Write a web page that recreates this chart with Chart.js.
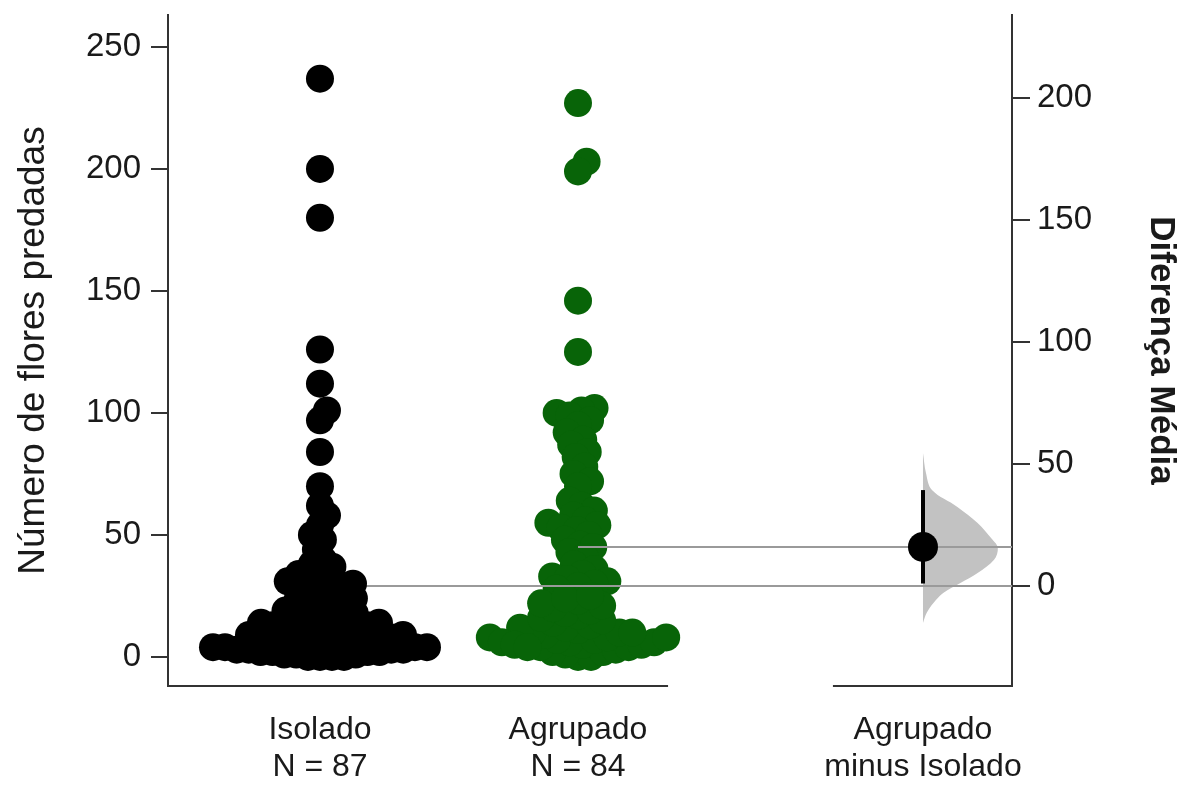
<!DOCTYPE html>
<html lang="pt">
<head>
<meta charset="UTF-8">
<title>Agrupado minus Isolado</title>
<script src="https://cdn.jsdelivr.net/npm/chart.js"></script>
<style>
  body { margin: 0; background: #fff; }
  #wrap { width: 1187px; height: 785px; }
</style>
</head>
<body>
<div id="wrap"><canvas id="chart"></canvas></div>
<script>
// values
const groups = ['Isolado', 'Agrupado'];
const groupN = [87, 84];
const isolado = [237, 200, 180, 126, 112, 101, 97, 84, 70, 62, 58, 54, 50, 48,
  44, 40, 38, 37, 35, 34, 33, 32, 31, 30, 30, 29, 28, 27, 26, 25, 24, 23, 22, 21, 20, 20, 19, 18,
  0, 0, 0, 0, 1, 1, 1, 2, 2, 2, 2, 3, 3, 3, 3, 4, 4, 4, 4, 5, 5, 5,
  6, 6, 6, 7, 7, 7, 8, 8, 8, 9, 9, 10, 10, 10, 11, 11, 12, 12, 13, 13,
  14, 14, 15, 15, 16, 16, 17];
const agrupado = [227, 203, 199, 146, 125,
  102, 101, 100, 99, 97, 95, 92, 89, 87, 84, 82, 78, 75, 72, 70,
  64, 62, 60, 58, 56, 55, 54, 53, 52, 50, 48, 46, 45, 43, 41,
  38, 36, 34, 33, 32, 31, 30, 29, 28,
  0, 0, 1, 2, 2, 3, 4, 4, 5, 5, 6, 6, 7, 7, 8, 8, 9, 10, 10, 11,
  12, 12, 13, 14, 15, 16, 17, 18, 19, 20, 21, 22, 23, 24, 25, 10, 8, 6, 5, 4];
const groupMeans = [29.1, 45.1];
const meanDiff = 16.0;
const ciDiff = [1.0, 39.3];
// bootstrap distribution of the difference (half violin)
const densityValues = [54.5, 46.3, 39.3, 32.4, 25.8, 18.9, 15.6, 10.7, 5.3, 1.2, -2.9, -7, -11, -15.2];
const densityWidths = [0, 0.04, 0.12, 0.46, 0.73, 0.93, 1.0, 0.95, 0.73, 0.5, 0.27, 0.14, 0.05, 0];
const leftTicks = [0, 50, 100, 150, 200, 250];
const rightTicks = [0, 50, 100, 150, 200];

const groupX = [1, 2];
const diffX = 3.337;
const xMin = 0.411, xMax = 3.682;
const yMin = -11.9, yMax = 263.1;
const violinWidth = 0.29;
const green = 'rgb(8,100,8)';
const font = 'Liberation Sans, Arial, sans-serif';

const xTickPos = [groupX[0], groupX[1], diffX];
const xTickLabels = [
  [groups[0], 'N = ' + groupN[0]],
  [groups[1], 'N = ' + groupN[1]],
  [groups[1], 'minus ' + groups[0]]
];

const violin = densityValues.map((v, i) => ({ x: diffX + densityWidths[i] * violinWidth, y: v }));

// beeswarm offsets, worked out in pixels through the chart's scales
function swarm(values, center, chart, d) {
  const xs = chart.scales.x, ys = chart.scales.y;
  const cx = xs.getPixelForValue(center);
  const placed = [];
  const out = new Array(values.length);
  const order = values.map((v, i) => i).sort((a, b) => values[a] - values[b]);
  for (const i of order) {
    const py = ys.getPixelForValue(values[i]);
    const near = placed.filter(p => Math.abs(p.y - py) < d);
    const cands = [0];
    near.forEach(p => {
      const dx = Math.sqrt(d * d - (p.y - py) ** 2);
      cands.push(p.x + dx, p.x - dx);
    });
    cands.sort((a, b) => Math.abs(a) - Math.abs(b));
    const best = cands.find(c => near.every(p => (p.x - c) ** 2 + (p.y - py) ** 2 >= d * d - 0.01));
    placed.push({ x: best, y: py });
    out[i] = { x: xs.getValueForPixel(cx + best), y: values[i] };
  }
  return out;
}

const axisSegments = {
  id: 'axisSegments',
  afterDraw(chart) {
    const { ctx, chartArea, scales: { x } } = chart;
    ctx.save();
    ctx.strokeStyle = '#333';
    ctx.lineWidth = 2;
    ctx.beginPath();
    ctx.moveTo(chartArea.left - 1, chartArea.bottom);
    ctx.lineTo(x.getPixelForValue(2.349), chartArea.bottom);
    ctx.moveTo(x.getPixelForValue(2.988), chartArea.bottom);
    ctx.lineTo(chartArea.right + 1, chartArea.bottom);
    ctx.stroke();
    ctx.restore();
  }
};

const noPad = s => { s.paddingTop = 0; s.paddingBottom = 0; s.paddingLeft = 0; s.paddingRight = 0; };

const chart = new Chart(document.getElementById('chart'), {
  type: 'scatter',
  data: {
    datasets: [
      { // 0 half violin
        data: violin, yAxisID: 'y2', showLine: true, fill: 'shape', tension: 0.35,
        backgroundColor: '#c2c2c2', borderWidth: 0, pointRadius: 0, order: 6
      },
      { // 1 Agrupado
        data: agrupado.map(v => ({ x: groupX[1], y: v })), yAxisID: 'y',
        backgroundColor: green, borderWidth: 0, pointRadius: 14, order: 5
      },
      { // 2 mean line Isolado
        data: [{ x: groupX[0], y: groupMeans[0] }, { x: xMax, y: groupMeans[0] }], yAxisID: 'y',
        showLine: true, borderColor: '#9a9a9a', borderWidth: 2, pointRadius: 0, order: 4
      },
      { // 3 mean line Agrupado
        data: [{ x: groupX[1], y: groupMeans[1] }, { x: xMax, y: groupMeans[1] }], yAxisID: 'y',
        showLine: true, borderColor: '#9a9a9a', borderWidth: 2, pointRadius: 0, order: 4
      },
      { // 4 Isolado
        data: isolado.map(v => ({ x: groupX[0], y: v })), yAxisID: 'y',
        backgroundColor: '#000', borderWidth: 0, pointRadius: 14, order: 3
      },
      { // 5 CI
        data: [{ x: diffX, y: ciDiff[0] }, { x: diffX, y: ciDiff[1] }], yAxisID: 'y2',
        showLine: true, borderColor: '#000', borderWidth: 4, pointRadius: 0, order: 2
      },
      { // 6 mean difference
        data: [{ x: diffX, y: meanDiff }], yAxisID: 'y2',
        backgroundColor: '#000', borderWidth: 0, pointRadius: 15, order: 1
      }
    ]
  },
  options: {
    responsive: true,
    maintainAspectRatio: false,
    animation: false,
    layout: { padding: { top: 15, left: 0, right: 0, bottom: 0 } },
    plugins: { legend: { display: false }, tooltip: { enabled: false } },
    scales: {
      x: {
        type: 'linear', min: xMin, max: xMax,
        afterBuildTicks: s => { s.ticks = xTickPos.map(v => ({ value: v })); },
        afterFit: s => { s.height = 99; noPad(s); },
        grid: { display: false, drawTicks: false },
        border: { display: false },
        ticks: {
          autoSkip: false, maxRotation: 0, padding: 26, color: '#1a1a1a',
          font: { family: font, size: 32, lineHeight: 1.15 },
          callback: (v, i) => xTickLabels[i]
        }
      },
      y: {
        position: 'left', min: yMin, max: yMax,
        afterBuildTicks: s => { s.ticks = leftTicks.map(v => ({ value: v })); },
        afterFit: s => { s.width = 168; noPad(s); },
        grid: { drawOnChartArea: false, tickLength: 17, color: '#333', lineWidth: 2 },
        border: { color: '#333', width: 2 },
        ticks: { padding: 10, color: '#1a1a1a', font: { family: font, size: 33 } },
        title: {
          display: true, text: 'Número de flores predadas', color: '#1a1a1a',
          font: { family: font, size: 37 }, padding: { top: 12, bottom: 0 }
        }
      },
      y2: {
        position: 'right', min: yMin - groupMeans[0], max: yMax - groupMeans[0],
        afterBuildTicks: s => { s.ticks = rightTicks.map(v => ({ value: v })); },
        afterFit: s => { s.width = 1187 - 1012; noPad(s); },
        grid: { drawOnChartArea: false, tickLength: 18, color: '#333', lineWidth: 2 },
        border: { color: '#333', width: 2 },
        ticks: { padding: 7, color: '#1a1a1a', font: { family: font, size: 33 } },
        title: {
          display: true, text: 'Diferença Média', color: '#1a1a1a',
          font: { family: font, size: 35, weight: 'bold' }, padding: { top: 5, bottom: 0 }
        }
      }
    }
  },
  plugins: [axisSegments]
});

chart.data.datasets[4].data = swarm(isolado, groupX[0], chart, 12);
chart.data.datasets[1].data = swarm(agrupado, groupX[1], chart, 13);
chart.update('none');
</script>
</body>
</html>
